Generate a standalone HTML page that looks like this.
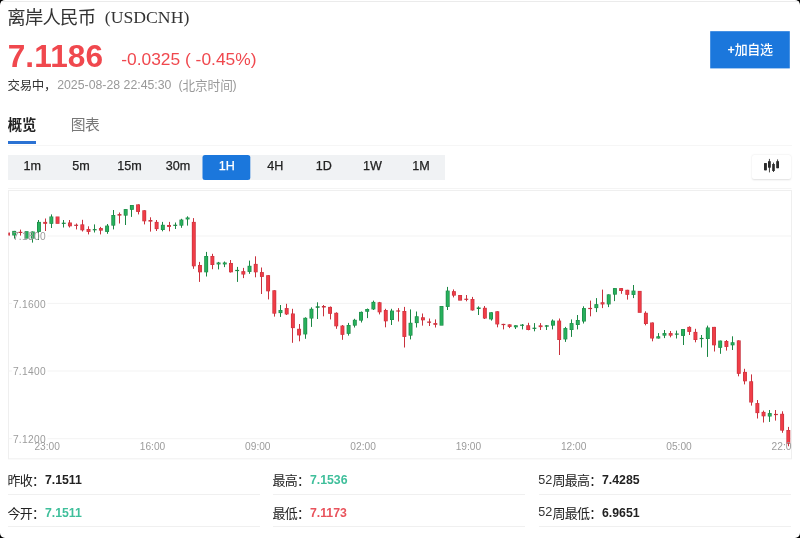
<!DOCTYPE html>
<html lang="zh"><head><meta charset="utf-8"><title>离岸人民币 (USDCNH)</title>
<style>
html,body{margin:0;padding:0;background:#000;}
#page{will-change:transform;position:relative;width:800px;height:538px;background:#fff;border-radius:5px;overflow:hidden;font-family:"Liberation Sans",sans-serif;}
.t{position:absolute;white-space:nowrap;line-height:1;}
.h{position:absolute;white-space:nowrap;line-height:1;color:transparent;font-family:"Liberation Sans",sans-serif;pointer-events:none;overflow:hidden;max-width:120px;}
.topline{position:absolute;left:0;top:1px;width:800px;height:1px;background:#ebebeb;}
.btn{position:absolute;left:710.2px;top:31.2px;width:79.6px;height:37.2px;background:#1b77dc;}
.ul{position:absolute;left:8px;top:141px;width:28px;height:3px;background:#2b72d3;}
.tabline{position:absolute;left:8px;top:145px;width:784px;height:1px;background:#f6f6f6;}
.tfband{position:absolute;left:8px;top:155px;width:437px;height:25px;background:#f0f2f4;}
.tfact{position:absolute;left:202.5px;top:155px;width:48.5px;height:25px;background:#1b77dc;border-radius:2px;}
.tf{-webkit-text-stroke:0.25px currentColor;top:160.2px;width:48.6px;text-align:center;font-size:12.6px;}
.ctb{position:absolute;left:752px;top:154.5px;width:38.5px;height:24px;background:#fff;border-radius:2px;box-shadow:0 0.5px 2px rgba(0,0,0,0.13);}
.dv{position:absolute;width:252px;height:1px;background:#f0f0f0;}
svg{position:absolute;left:0;top:0;}
.ax{font-family:"Liberation Sans",sans-serif;font-size:10.2px;fill:#9c9c9c;}
.cj{font-family:"Liberation Sans","Noto Sans CJK SC",sans-serif;}
</style></head><body><div id="page">
<div class="topline"></div>
<span class="t" style="left:104.80px;top:8.82px;font-size:17.70px;color:#333;font-weight:normal;font-family:'Liberation Serif', serif;">(USDCNH)</span>
<span class="t" style="left:7.70px;top:40.95px;font-size:31.60px;color:#f0484e;font-weight:bold;letter-spacing:0.1px;">7.1186</span>
<span class="t" style="left:121.20px;top:51.27px;font-size:17.40px;color:#f0484e;font-weight:normal;">-0.0325</span>
<span class="t" style="left:185.00px;top:51.27px;font-size:17.40px;color:#f0484e;font-weight:normal;">(</span>
<span class="t" style="left:195.60px;top:51.27px;font-size:17.40px;color:#f0484e;font-weight:normal;">-0.45%)</span>
<span class="t" style="left:57.20px;top:78.69px;font-size:12.30px;color:#999;font-weight:normal;">2025-08-28</span>
<span class="t" style="left:123.60px;top:78.69px;font-size:12.30px;color:#999;font-weight:normal;">22:45:30</span>
<span class="t" style="left:178.60px;top:78.69px;font-size:12.30px;color:#999;font-weight:normal;">(</span>
<span class="t" style="left:232.40px;top:78.69px;font-size:12.30px;color:#999;font-weight:normal;">)</span>
<div class="ul"></div>
<div class="tabline"></div>
<div class="tfband"></div>
<svg width="800" height="538" viewBox="0 0 800 538"><rect x="202.5" y="155" width="47.8" height="25" rx="2.5" fill="#1b77dc"/></svg>
<span class="t tf" style="left:8.00px;color:#222">1m</span>
<span class="t tf" style="left:56.60px;color:#222">5m</span>
<span class="t tf" style="left:105.20px;color:#222">15m</span>
<span class="t tf" style="left:153.80px;color:#222">30m</span>
<span class="t tf" style="left:202.40px;color:#fff">1H</span>
<span class="t tf" style="left:251.00px;color:#222">4H</span>
<span class="t tf" style="left:299.60px;color:#222">1D</span>
<span class="t tf" style="left:348.20px;color:#222">1W</span>
<span class="t tf" style="left:396.80px;color:#222">1M</span>
<div class="ctb"></div>
<div class="dv" style="left:8.0px;top:494.0px"></div>
<div class="dv" style="left:8.0px;top:526.2px"></div>
<div class="dv" style="left:273.0px;top:494.0px"></div>
<div class="dv" style="left:273.0px;top:526.2px"></div>
<div class="dv" style="left:538.5px;top:494.0px"></div>
<div class="dv" style="left:538.5px;top:526.2px"></div>
<span class="t" style="left:44.90px;top:474.09px;font-size:12.30px;color:#222;font-weight:bold;">7.1511</span>
<span class="t" style="left:44.90px;top:506.69px;font-size:12.30px;color:#3fbf9b;font-weight:bold;">7.1511</span>
<span class="t" style="left:309.90px;top:474.09px;font-size:12.30px;color:#3fbf9b;font-weight:bold;">7.1536</span>
<span class="t" style="left:309.90px;top:506.69px;font-size:12.30px;color:#e9535c;font-weight:bold;">7.1173</span>
<span class="t" style="left:538.30px;top:473.83px;font-size:12.60px;color:#333;font-weight:normal;">52</span>
<span class="t" style="left:602.00px;top:474.09px;font-size:12.30px;color:#222;font-weight:bold;">7.4285</span>
<span class="t" style="left:538.30px;top:506.43px;font-size:12.60px;color:#333;font-weight:normal;">52</span>
<span class="t" style="left:602.00px;top:506.69px;font-size:12.30px;color:#222;font-weight:bold;">6.9651</span>
<svg width="800" height="538" viewBox="0 0 800 538">
<rect x="710.2" y="31.2" width="79.6" height="37.2" fill="#1b77dc"/><text x="727.4" y="54.2" font-family="Liberation Sans, sans-serif" font-size="12.5" font-weight="bold" fill="#fff">+</text>
<rect x="8.5" y="190.5" width="783.0" height="268.3" fill="none" stroke="#efefef" stroke-width="1"/>
<line x1="8" x2="791.5" y1="188.5" y2="188.5" stroke="#f4f4f4" stroke-width="1"/>
<line x1="47.5" x2="791.5" y1="236.0" y2="236.0" stroke="#f3f3f3" stroke-width="1"/>
<line x1="8.5" x2="12.0" y1="236.0" y2="236.0" stroke="#f3f3f3" stroke-width="1"/>
<line x1="47.5" x2="791.5" y1="303.4" y2="303.4" stroke="#f3f3f3" stroke-width="1"/>
<line x1="8.5" x2="12.0" y1="303.4" y2="303.4" stroke="#f3f3f3" stroke-width="1"/>
<line x1="47.5" x2="791.5" y1="371.0" y2="371.0" stroke="#f3f3f3" stroke-width="1"/>
<line x1="8.5" x2="12.0" y1="371.0" y2="371.0" stroke="#f3f3f3" stroke-width="1"/>
<line x1="47.5" x2="791.5" y1="438.7" y2="438.7" stroke="#f3f3f3" stroke-width="1"/>
<line x1="8.5" x2="12.0" y1="438.7" y2="438.7" stroke="#f3f3f3" stroke-width="1"/>
<clipPath id="cc"><rect x="8.5" y="190.5" width="783.0" height="256.0"/></clipPath>
<g clip-path="url(#cc)"><rect x="6.05" y="232.5" width="3.9" height="3.1" fill="#c8313d"/><rect x="6.75" y="233.0" width="2.5" height="2.1" fill="#f03d47"/><rect x="14" y="230.9" width="1" height="7.7" fill="#1b8744"/><rect x="12.24" y="230.9" width="3.9" height="4.6" fill="#1b8744"/><rect x="12.94" y="231.4" width="2.5" height="3.6" fill="#27b05c"/><rect x="20" y="229.6" width="1" height="6.0" fill="#c8313d"/><rect x="18.44" y="231.8" width="3.9" height="1.2" fill="#c8313d"/><rect x="24.63" y="231.2" width="3.9" height="7.4" fill="#1b8744"/><rect x="25.33" y="231.7" width="2.5" height="6.4" fill="#27b05c"/><rect x="32" y="231.5" width="1" height="11.1" fill="#1b8744"/><rect x="30.82" y="231.5" width="3.9" height="7.1" fill="#1b8744"/><rect x="31.52" y="232.0" width="2.5" height="6.1" fill="#27b05c"/><rect x="38" y="220.0" width="1" height="20.0" fill="#1b8744"/><rect x="37.01" y="221.9" width="3.9" height="10.0" fill="#1b8744"/><rect x="37.71" y="222.4" width="2.5" height="9.0" fill="#27b05c"/><rect x="45" y="218.5" width="1" height="12.5" fill="#c8313d"/><rect x="43.21" y="221.9" width="3.9" height="1.9" fill="#c8313d"/><rect x="43.91" y="222.4" width="2.5" height="0.9" fill="#f03d47"/><rect x="51" y="214.4" width="1" height="13.6" fill="#1b8744"/><rect x="49.40" y="216.5" width="3.9" height="7.3" fill="#1b8744"/><rect x="50.10" y="217.0" width="2.5" height="6.3" fill="#27b05c"/><rect x="55.59" y="216.5" width="3.9" height="7.3" fill="#c8313d"/><rect x="56.29" y="217.0" width="2.5" height="6.3" fill="#f03d47"/><rect x="63" y="220.0" width="1" height="7.5" fill="#1b8744"/><rect x="61.79" y="222.7" width="3.9" height="1.2" fill="#1b8744"/><rect x="69" y="220.0" width="1" height="7.5" fill="#c8313d"/><rect x="67.98" y="222.5" width="3.9" height="3.8" fill="#c8313d"/><rect x="68.68" y="223.0" width="2.5" height="2.8" fill="#f03d47"/><rect x="76" y="223.5" width="1" height="5.9" fill="#c8313d"/><rect x="74.17" y="224.7" width="3.9" height="1.2" fill="#c8313d"/><rect x="82" y="219.8" width="1" height="11.7" fill="#c8313d"/><rect x="80.37" y="224.4" width="3.9" height="5.9" fill="#c8313d"/><rect x="81.07" y="224.9" width="2.5" height="4.9" fill="#f03d47"/><rect x="88" y="226.3" width="1" height="8.1" fill="#c8313d"/><rect x="86.56" y="229.0" width="3.9" height="2.9" fill="#c8313d"/><rect x="87.26" y="229.5" width="2.5" height="1.9" fill="#f03d47"/><rect x="94" y="224.4" width="1" height="8.1" fill="#1b8744"/><rect x="92.75" y="229.1" width="3.9" height="1.2" fill="#1b8744"/><rect x="100" y="226.9" width="1" height="7.5" fill="#c8313d"/><rect x="98.94" y="228.1" width="3.9" height="2.5" fill="#c8313d"/><rect x="99.64" y="228.6" width="2.5" height="1.5" fill="#f03d47"/><rect x="107" y="224.0" width="1" height="9.8" fill="#1b8744"/><rect x="105.14" y="225.6" width="3.9" height="6.3" fill="#1b8744"/><rect x="105.84" y="226.1" width="2.5" height="5.3" fill="#27b05c"/><rect x="113" y="210.0" width="1" height="19.4" fill="#1b8744"/><rect x="111.33" y="215.0" width="3.9" height="10.6" fill="#1b8744"/><rect x="112.03" y="215.5" width="2.5" height="9.6" fill="#27b05c"/><rect x="119" y="212.5" width="1" height="11.0" fill="#c8313d"/><rect x="117.52" y="214.1" width="3.9" height="1.5" fill="#c8313d"/><rect x="125" y="209.1" width="1" height="15.9" fill="#1b8744"/><rect x="123.72" y="209.1" width="3.9" height="6.5" fill="#1b8744"/><rect x="124.42" y="209.6" width="2.5" height="5.5" fill="#27b05c"/><rect x="131" y="205.0" width="1" height="11.9" fill="#1b8744"/><rect x="129.91" y="205.0" width="3.9" height="4.8" fill="#1b8744"/><rect x="130.61" y="205.5" width="2.5" height="3.8" fill="#27b05c"/><rect x="138" y="204.4" width="1" height="10.0" fill="#c8313d"/><rect x="136.10" y="204.4" width="3.9" height="7.5" fill="#c8313d"/><rect x="136.80" y="204.9" width="2.5" height="6.5" fill="#f03d47"/><rect x="144" y="210.3" width="1" height="14.1" fill="#c8313d"/><rect x="142.30" y="210.3" width="3.9" height="11.0" fill="#c8313d"/><rect x="143.00" y="210.8" width="2.5" height="10.0" fill="#f03d47"/><rect x="150" y="217.3" width="1" height="14.3" fill="#c8313d"/><rect x="148.49" y="220.0" width="3.9" height="1.6" fill="#c8313d"/><rect x="156" y="220.0" width="1" height="11.0" fill="#c8313d"/><rect x="154.68" y="221.9" width="3.9" height="7.2" fill="#c8313d"/><rect x="155.38" y="222.4" width="2.5" height="6.2" fill="#f03d47"/><rect x="162" y="221.9" width="1" height="9.4" fill="#1b8744"/><rect x="160.88" y="224.8" width="3.9" height="5.2" fill="#1b8744"/><rect x="161.57" y="225.3" width="2.5" height="4.2" fill="#27b05c"/><rect x="169" y="221.9" width="1" height="9.4" fill="#c8313d"/><rect x="167.07" y="225.0" width="3.9" height="1.9" fill="#c8313d"/><rect x="167.77" y="225.5" width="2.5" height="0.9" fill="#f03d47"/><rect x="175" y="222.5" width="1" height="6.5" fill="#1b8744"/><rect x="173.26" y="224.7" width="3.9" height="1.2" fill="#1b8744"/><rect x="181" y="218.8" width="1" height="9.0" fill="#1b8744"/><rect x="179.45" y="219.6" width="3.9" height="6.0" fill="#1b8744"/><rect x="180.15" y="220.1" width="2.5" height="5.0" fill="#27b05c"/><rect x="187" y="216.3" width="1" height="9.3" fill="#1b8744"/><rect x="185.65" y="217.5" width="3.9" height="1.9" fill="#1b8744"/><rect x="186.35" y="218.0" width="2.5" height="0.9" fill="#27b05c"/><rect x="193" y="218.1" width="1" height="50.7" fill="#c8313d"/><rect x="191.84" y="221.9" width="3.9" height="44.4" fill="#c8313d"/><rect x="192.54" y="222.4" width="2.5" height="43.4" fill="#f03d47"/><rect x="199" y="261.9" width="1" height="20.0" fill="#c8313d"/><rect x="198.03" y="265.0" width="3.9" height="7.3" fill="#c8313d"/><rect x="198.73" y="265.5" width="2.5" height="6.3" fill="#f03d47"/><rect x="206" y="251.9" width="1" height="24.6" fill="#1b8744"/><rect x="204.23" y="256.0" width="3.9" height="16.3" fill="#1b8744"/><rect x="204.93" y="256.5" width="2.5" height="15.3" fill="#27b05c"/><rect x="212" y="253.8" width="1" height="15.4" fill="#c8313d"/><rect x="210.42" y="256.0" width="3.9" height="9.0" fill="#c8313d"/><rect x="211.12" y="256.5" width="2.5" height="8.0" fill="#f03d47"/><rect x="218" y="261.9" width="1" height="7.5" fill="#1b8744"/><rect x="216.61" y="262.5" width="3.9" height="1.9" fill="#1b8744"/><rect x="217.31" y="263.0" width="2.5" height="0.9" fill="#27b05c"/><rect x="224" y="261.5" width="1" height="5.6" fill="#1b8744"/><rect x="222.81" y="262.5" width="3.9" height="1.9" fill="#1b8744"/><rect x="223.50" y="263.0" width="2.5" height="0.9" fill="#27b05c"/><rect x="230" y="260.0" width="1" height="12.5" fill="#c8313d"/><rect x="229.00" y="263.0" width="3.9" height="9.3" fill="#c8313d"/><rect x="229.70" y="263.5" width="2.5" height="8.3" fill="#f03d47"/><rect x="237" y="266.9" width="1" height="15.0" fill="#1b8744"/><rect x="235.19" y="269.9" width="3.9" height="1.2" fill="#1b8744"/><rect x="243" y="267.9" width="1" height="10.2" fill="#c8313d"/><rect x="241.38" y="271.2" width="3.9" height="3.3" fill="#c8313d"/><rect x="242.08" y="271.7" width="2.5" height="2.3" fill="#f03d47"/><rect x="249" y="260.6" width="1" height="13.2" fill="#1b8744"/><rect x="247.58" y="265.8" width="3.9" height="6.1" fill="#1b8744"/><rect x="248.28" y="266.3" width="2.5" height="5.1" fill="#27b05c"/><rect x="255" y="256.3" width="1" height="21.0" fill="#c8313d"/><rect x="253.77" y="263.9" width="3.9" height="8.4" fill="#c8313d"/><rect x="254.47" y="264.4" width="2.5" height="7.4" fill="#f03d47"/><rect x="261" y="267.5" width="1" height="26.5" fill="#c8313d"/><rect x="259.96" y="272.1" width="3.9" height="4.8" fill="#c8313d"/><rect x="260.66" y="272.6" width="2.5" height="3.8" fill="#f03d47"/><rect x="268" y="275.2" width="1" height="24.2" fill="#c8313d"/><rect x="266.16" y="275.2" width="3.9" height="16.1" fill="#c8313d"/><rect x="266.86" y="275.7" width="2.5" height="15.1" fill="#f03d47"/><rect x="274" y="290.3" width="1" height="26.3" fill="#c8313d"/><rect x="272.35" y="290.3" width="3.9" height="23.3" fill="#c8313d"/><rect x="273.05" y="290.8" width="2.5" height="22.3" fill="#f03d47"/><rect x="280" y="305.0" width="1" height="11.9" fill="#1b8744"/><rect x="278.54" y="310.0" width="3.9" height="3.1" fill="#1b8744"/><rect x="279.24" y="310.5" width="2.5" height="2.1" fill="#27b05c"/><rect x="286" y="303.8" width="1" height="11.2" fill="#c8313d"/><rect x="284.74" y="308.1" width="3.9" height="6.3" fill="#c8313d"/><rect x="285.44" y="308.6" width="2.5" height="5.3" fill="#f03d47"/><rect x="292" y="308.8" width="1" height="34.0" fill="#c8313d"/><rect x="290.93" y="313.5" width="3.9" height="14.6" fill="#c8313d"/><rect x="291.63" y="314.0" width="2.5" height="13.6" fill="#f03d47"/><rect x="299" y="324.0" width="1" height="17.3" fill="#c8313d"/><rect x="297.12" y="328.8" width="3.9" height="6.6" fill="#c8313d"/><rect x="297.82" y="329.3" width="2.5" height="5.6" fill="#f03d47"/><rect x="305" y="317.3" width="1" height="21.5" fill="#1b8744"/><rect x="303.31" y="317.8" width="3.9" height="16.6" fill="#1b8744"/><rect x="304.01" y="318.3" width="2.5" height="15.6" fill="#27b05c"/><rect x="311" y="307.3" width="1" height="19.6" fill="#1b8744"/><rect x="309.51" y="308.8" width="3.9" height="9.7" fill="#1b8744"/><rect x="310.21" y="309.3" width="2.5" height="8.7" fill="#27b05c"/><rect x="317" y="302.3" width="1" height="16.7" fill="#1b8744"/><rect x="315.70" y="306.3" width="3.9" height="1.5" fill="#1b8744"/><rect x="323" y="305.0" width="1" height="11.3" fill="#c8313d"/><rect x="321.89" y="306.0" width="3.9" height="1.5" fill="#c8313d"/><rect x="330" y="306.5" width="1" height="12.9" fill="#c8313d"/><rect x="328.09" y="306.9" width="3.9" height="6.9" fill="#c8313d"/><rect x="328.79" y="307.4" width="2.5" height="5.9" fill="#f03d47"/><rect x="336" y="312.3" width="1" height="16.5" fill="#c8313d"/><rect x="334.28" y="312.8" width="3.9" height="13.5" fill="#c8313d"/><rect x="334.98" y="313.3" width="2.5" height="12.5" fill="#f03d47"/><rect x="342" y="325.0" width="1" height="14.8" fill="#c8313d"/><rect x="340.47" y="325.6" width="3.9" height="9.2" fill="#c8313d"/><rect x="341.17" y="326.1" width="2.5" height="8.2" fill="#f03d47"/><rect x="348" y="322.9" width="1" height="12.7" fill="#1b8744"/><rect x="346.66" y="325.0" width="3.9" height="8.8" fill="#1b8744"/><rect x="347.36" y="325.5" width="2.5" height="7.8" fill="#27b05c"/><rect x="354" y="318.8" width="1" height="8.7" fill="#1b8744"/><rect x="352.86" y="319.8" width="3.9" height="5.8" fill="#1b8744"/><rect x="353.56" y="320.3" width="2.5" height="4.8" fill="#27b05c"/><rect x="361" y="311.5" width="1" height="11.0" fill="#1b8744"/><rect x="359.05" y="311.9" width="3.9" height="8.7" fill="#1b8744"/><rect x="359.75" y="312.4" width="2.5" height="7.7" fill="#27b05c"/><rect x="367" y="308.5" width="1" height="9.6" fill="#1b8744"/><rect x="365.24" y="309.0" width="3.9" height="2.7" fill="#1b8744"/><rect x="365.94" y="309.5" width="2.5" height="1.7" fill="#27b05c"/><rect x="373" y="300.6" width="1" height="9.4" fill="#1b8744"/><rect x="371.44" y="301.9" width="3.9" height="7.5" fill="#1b8744"/><rect x="372.14" y="302.4" width="2.5" height="6.5" fill="#27b05c"/><rect x="379" y="301.9" width="1" height="12.5" fill="#c8313d"/><rect x="377.63" y="302.3" width="3.9" height="10.0" fill="#c8313d"/><rect x="378.33" y="302.8" width="2.5" height="9.0" fill="#f03d47"/><rect x="385" y="308.8" width="1" height="18.5" fill="#c8313d"/><rect x="383.82" y="310.0" width="3.9" height="11.3" fill="#c8313d"/><rect x="384.52" y="310.5" width="2.5" height="10.3" fill="#f03d47"/><rect x="391" y="308.8" width="1" height="16.2" fill="#1b8744"/><rect x="390.02" y="310.6" width="3.9" height="9.4" fill="#1b8744"/><rect x="390.72" y="311.1" width="2.5" height="8.4" fill="#27b05c"/><rect x="398" y="308.1" width="1" height="13.4" fill="#c8313d"/><rect x="396.21" y="310.4" width="3.9" height="1.2" fill="#c8313d"/><rect x="404" y="306.9" width="1" height="40.6" fill="#c8313d"/><rect x="402.40" y="311.0" width="3.9" height="25.9" fill="#c8313d"/><rect x="403.10" y="311.5" width="2.5" height="24.9" fill="#f03d47"/><rect x="410" y="309.4" width="1" height="30.0" fill="#1b8744"/><rect x="408.59" y="322.8" width="3.9" height="12.8" fill="#1b8744"/><rect x="409.29" y="323.3" width="2.5" height="11.8" fill="#27b05c"/><rect x="416" y="311.5" width="1" height="16.0" fill="#1b8744"/><rect x="414.79" y="316.3" width="3.9" height="6.8" fill="#1b8744"/><rect x="415.49" y="316.8" width="2.5" height="5.8" fill="#27b05c"/><rect x="422" y="313.5" width="1" height="12.1" fill="#c8313d"/><rect x="420.98" y="317.3" width="3.9" height="3.0" fill="#c8313d"/><rect x="421.68" y="317.8" width="2.5" height="2.0" fill="#f03d47"/><rect x="429" y="318.5" width="1" height="7.5" fill="#c8313d"/><rect x="427.17" y="321.5" width="3.9" height="1.3" fill="#c8313d"/><rect x="435" y="319.4" width="1" height="8.1" fill="#c8313d"/><rect x="433.37" y="323.1" width="3.9" height="1.7" fill="#c8313d"/><rect x="434.07" y="323.6" width="2.5" height="0.7" fill="#f03d47"/><rect x="439.56" y="306.0" width="3.9" height="19.6" fill="#1b8744"/><rect x="440.26" y="306.5" width="2.5" height="18.6" fill="#27b05c"/><rect x="447" y="286.9" width="1" height="23.1" fill="#1b8744"/><rect x="445.75" y="290.6" width="3.9" height="16.3" fill="#1b8744"/><rect x="446.45" y="291.1" width="2.5" height="15.3" fill="#27b05c"/><rect x="453" y="289.4" width="1" height="8.0" fill="#c8313d"/><rect x="451.95" y="291.2" width="3.9" height="4.4" fill="#c8313d"/><rect x="452.65" y="291.7" width="2.5" height="3.4" fill="#f03d47"/><rect x="458.14" y="295.0" width="3.9" height="5.6" fill="#c8313d"/><rect x="458.84" y="295.5" width="2.5" height="4.6" fill="#f03d47"/><rect x="466" y="295.0" width="1" height="6.3" fill="#c8313d"/><rect x="464.33" y="298.7" width="3.9" height="1.2" fill="#c8313d"/><rect x="472" y="296.9" width="1" height="13.7" fill="#c8313d"/><rect x="470.52" y="299.0" width="3.9" height="11.4" fill="#c8313d"/><rect x="471.22" y="299.5" width="2.5" height="10.4" fill="#f03d47"/><rect x="478" y="306.3" width="1" height="8.7" fill="#1b8744"/><rect x="476.72" y="307.5" width="3.9" height="1.5" fill="#1b8744"/><rect x="484" y="306.0" width="1" height="13.0" fill="#c8313d"/><rect x="482.91" y="307.8" width="3.9" height="10.7" fill="#c8313d"/><rect x="483.61" y="308.3" width="2.5" height="9.7" fill="#f03d47"/><rect x="491" y="312.3" width="1" height="8.3" fill="#1b8744"/><rect x="489.10" y="312.3" width="3.9" height="7.1" fill="#1b8744"/><rect x="489.80" y="312.8" width="2.5" height="6.1" fill="#27b05c"/><rect x="497" y="311.3" width="1" height="16.0" fill="#c8313d"/><rect x="495.30" y="311.3" width="3.9" height="13.1" fill="#c8313d"/><rect x="496.00" y="311.8" width="2.5" height="12.1" fill="#f03d47"/><rect x="503" y="323.8" width="1" height="5.6" fill="#c8313d"/><rect x="501.49" y="323.9" width="3.9" height="1.2" fill="#c8313d"/><rect x="509" y="324.4" width="1" height="3.7" fill="#c8313d"/><rect x="507.68" y="324.4" width="3.9" height="2.5" fill="#c8313d"/><rect x="508.38" y="324.9" width="2.5" height="1.5" fill="#f03d47"/><rect x="515" y="325.3" width="1" height="3.7" fill="#1b8744"/><rect x="513.88" y="325.3" width="3.9" height="2.0" fill="#1b8744"/><rect x="514.58" y="325.8" width="2.5" height="1.0" fill="#27b05c"/><rect x="522" y="324.0" width="1" height="5.4" fill="#1b8744"/><rect x="520.07" y="324.6" width="3.9" height="1.2" fill="#1b8744"/><rect x="528" y="322.8" width="1" height="7.5" fill="#c8313d"/><rect x="526.26" y="325.3" width="3.9" height="4.7" fill="#c8313d"/><rect x="526.96" y="325.8" width="2.5" height="3.7" fill="#f03d47"/><rect x="534" y="323.1" width="1" height="8.2" fill="#1b8744"/><rect x="532.45" y="327.7" width="3.9" height="1.2" fill="#1b8744"/><rect x="540" y="323.1" width="1" height="6.9" fill="#c8313d"/><rect x="538.65" y="325.4" width="3.9" height="1.7" fill="#c8313d"/><rect x="539.35" y="325.9" width="2.5" height="0.7" fill="#f03d47"/><rect x="546" y="325.0" width="1" height="5.0" fill="#1b8744"/><rect x="544.84" y="325.3" width="3.9" height="1.4" fill="#1b8744"/><rect x="552" y="319.4" width="1" height="10.0" fill="#1b8744"/><rect x="551.03" y="320.6" width="3.9" height="5.0" fill="#1b8744"/><rect x="551.73" y="321.1" width="2.5" height="4.0" fill="#27b05c"/><rect x="559" y="318.5" width="1" height="36.5" fill="#c8313d"/><rect x="557.23" y="320.6" width="3.9" height="19.4" fill="#c8313d"/><rect x="557.93" y="321.1" width="2.5" height="18.4" fill="#f03d47"/><rect x="565" y="326.9" width="1" height="15.0" fill="#1b8744"/><rect x="563.42" y="328.1" width="3.9" height="11.3" fill="#1b8744"/><rect x="564.12" y="328.6" width="2.5" height="10.3" fill="#27b05c"/><rect x="571" y="319.4" width="1" height="17.5" fill="#1b8744"/><rect x="569.61" y="323.1" width="3.9" height="6.9" fill="#1b8744"/><rect x="570.31" y="323.6" width="2.5" height="5.9" fill="#27b05c"/><rect x="577" y="315.0" width="1" height="14.4" fill="#1b8744"/><rect x="575.81" y="320.0" width="3.9" height="5.0" fill="#1b8744"/><rect x="576.51" y="320.5" width="2.5" height="4.0" fill="#27b05c"/><rect x="583" y="306.3" width="1" height="17.2" fill="#1b8744"/><rect x="582.00" y="308.1" width="3.9" height="13.4" fill="#1b8744"/><rect x="582.70" y="308.6" width="2.5" height="12.4" fill="#27b05c"/><rect x="590" y="300.6" width="1" height="15.7" fill="#c8313d"/><rect x="588.19" y="307.9" width="3.9" height="1.2" fill="#c8313d"/><rect x="596" y="298.1" width="1" height="14.0" fill="#1b8744"/><rect x="594.38" y="304.2" width="3.9" height="3.9" fill="#1b8744"/><rect x="595.08" y="304.7" width="2.5" height="2.9" fill="#27b05c"/><rect x="602" y="289.6" width="1" height="18.5" fill="#c8313d"/><rect x="600.58" y="302.3" width="3.9" height="2.1" fill="#c8313d"/><rect x="601.28" y="302.8" width="2.5" height="1.1" fill="#f03d47"/><rect x="608" y="294.4" width="1" height="12.7" fill="#1b8744"/><rect x="606.77" y="294.4" width="3.9" height="10.0" fill="#1b8744"/><rect x="607.47" y="294.9" width="2.5" height="9.0" fill="#27b05c"/><rect x="614" y="288.1" width="1" height="13.0" fill="#1b8744"/><rect x="612.96" y="288.1" width="3.9" height="6.5" fill="#1b8744"/><rect x="613.66" y="288.6" width="2.5" height="5.5" fill="#27b05c"/><rect x="621" y="288.1" width="1" height="5.7" fill="#c8313d"/><rect x="619.16" y="288.1" width="3.9" height="2.9" fill="#c8313d"/><rect x="619.86" y="288.6" width="2.5" height="1.9" fill="#f03d47"/><rect x="627" y="289.8" width="1" height="9.8" fill="#c8313d"/><rect x="625.35" y="289.8" width="3.9" height="5.0" fill="#c8313d"/><rect x="626.05" y="290.3" width="2.5" height="4.0" fill="#f03d47"/><rect x="633" y="285.0" width="1" height="13.1" fill="#1b8744"/><rect x="631.54" y="290.6" width="3.9" height="4.3" fill="#1b8744"/><rect x="632.24" y="291.1" width="2.5" height="3.3" fill="#27b05c"/><rect x="637.74" y="290.9" width="3.9" height="21.9" fill="#c8313d"/><rect x="638.44" y="291.4" width="2.5" height="20.9" fill="#f03d47"/><rect x="645" y="311.3" width="1" height="14.0" fill="#c8313d"/><rect x="643.93" y="312.8" width="3.9" height="11.2" fill="#c8313d"/><rect x="644.63" y="313.3" width="2.5" height="10.2" fill="#f03d47"/><rect x="652" y="322.5" width="1" height="18.8" fill="#c8313d"/><rect x="650.12" y="322.5" width="3.9" height="16.0" fill="#c8313d"/><rect x="650.82" y="323.0" width="2.5" height="15.0" fill="#f03d47"/><rect x="658" y="333.1" width="1" height="5.4" fill="#1b8744"/><rect x="656.31" y="336.3" width="3.9" height="2.2" fill="#1b8744"/><rect x="657.01" y="336.8" width="2.5" height="1.2" fill="#27b05c"/><rect x="664" y="330.0" width="1" height="8.1" fill="#1b8744"/><rect x="662.51" y="333.1" width="3.9" height="2.5" fill="#1b8744"/><rect x="663.21" y="333.6" width="2.5" height="1.5" fill="#27b05c"/><rect x="670" y="331.0" width="1" height="6.3" fill="#c8313d"/><rect x="668.70" y="333.1" width="3.9" height="2.5" fill="#c8313d"/><rect x="669.40" y="333.6" width="2.5" height="1.5" fill="#f03d47"/><rect x="676" y="330.6" width="1" height="7.9" fill="#1b8744"/><rect x="674.89" y="333.5" width="3.9" height="1.2" fill="#1b8744"/><rect x="683" y="329.0" width="1" height="16.0" fill="#1b8744"/><rect x="681.09" y="329.0" width="3.9" height="6.9" fill="#1b8744"/><rect x="681.79" y="329.5" width="2.5" height="5.9" fill="#27b05c"/><rect x="689" y="326.3" width="1" height="8.7" fill="#c8313d"/><rect x="687.28" y="326.9" width="3.9" height="5.0" fill="#c8313d"/><rect x="687.98" y="327.4" width="2.5" height="4.0" fill="#f03d47"/><rect x="695" y="328.8" width="1" height="13.5" fill="#c8313d"/><rect x="693.47" y="331.9" width="3.9" height="8.1" fill="#c8313d"/><rect x="694.17" y="332.4" width="2.5" height="7.1" fill="#f03d47"/><rect x="701" y="335.0" width="1" height="12.5" fill="#1b8744"/><rect x="699.67" y="337.9" width="3.9" height="1.2" fill="#1b8744"/><rect x="707" y="325.6" width="1" height="31.3" fill="#1b8744"/><rect x="705.86" y="327.5" width="3.9" height="11.5" fill="#1b8744"/><rect x="706.56" y="328.0" width="2.5" height="10.5" fill="#27b05c"/><rect x="714" y="326.9" width="1" height="24.6" fill="#c8313d"/><rect x="712.05" y="326.9" width="3.9" height="18.4" fill="#c8313d"/><rect x="712.75" y="327.4" width="2.5" height="17.4" fill="#f03d47"/><rect x="720" y="340.6" width="1" height="13.2" fill="#1b8744"/><rect x="718.24" y="340.6" width="3.9" height="7.2" fill="#1b8744"/><rect x="718.94" y="341.1" width="2.5" height="6.2" fill="#27b05c"/><rect x="726" y="340.0" width="1" height="10.6" fill="#c8313d"/><rect x="724.44" y="341.0" width="3.9" height="5.9" fill="#c8313d"/><rect x="725.14" y="341.5" width="2.5" height="4.9" fill="#f03d47"/><rect x="732" y="336.3" width="1" height="13.7" fill="#1b8744"/><rect x="730.63" y="342.3" width="3.9" height="3.0" fill="#1b8744"/><rect x="731.33" y="342.8" width="2.5" height="2.0" fill="#27b05c"/><rect x="738" y="340.4" width="1" height="35.9" fill="#c8313d"/><rect x="736.82" y="340.4" width="3.9" height="33.4" fill="#c8313d"/><rect x="737.52" y="340.9" width="2.5" height="32.4" fill="#f03d47"/><rect x="744" y="368.8" width="1" height="15.6" fill="#c8313d"/><rect x="743.02" y="371.9" width="3.9" height="9.4" fill="#c8313d"/><rect x="743.72" y="372.4" width="2.5" height="8.4" fill="#f03d47"/><rect x="751" y="374.4" width="1" height="31.2" fill="#c8313d"/><rect x="749.21" y="381.3" width="3.9" height="21.2" fill="#c8313d"/><rect x="749.91" y="381.8" width="2.5" height="20.2" fill="#f03d47"/><rect x="757" y="400.0" width="1" height="18.5" fill="#c8313d"/><rect x="755.40" y="403.1" width="3.9" height="10.0" fill="#c8313d"/><rect x="756.10" y="403.6" width="2.5" height="9.0" fill="#f03d47"/><rect x="763" y="410.6" width="1" height="11.9" fill="#c8313d"/><rect x="761.60" y="411.9" width="3.9" height="4.4" fill="#c8313d"/><rect x="762.30" y="412.4" width="2.5" height="3.4" fill="#f03d47"/><rect x="769" y="410.0" width="1" height="11.9" fill="#1b8744"/><rect x="767.79" y="413.1" width="3.9" height="3.4" fill="#1b8744"/><rect x="768.49" y="413.6" width="2.5" height="2.4" fill="#27b05c"/><rect x="775" y="410.0" width="1" height="10.6" fill="#c8313d"/><rect x="773.98" y="413.9" width="3.9" height="1.2" fill="#c8313d"/><rect x="782" y="411.3" width="1" height="21.5" fill="#c8313d"/><rect x="780.17" y="413.8" width="3.9" height="16.8" fill="#c8313d"/><rect x="780.88" y="414.3" width="2.5" height="15.8" fill="#f03d47"/><rect x="788" y="426.9" width="1" height="19.6" fill="#c8313d"/><rect x="786.37" y="430.0" width="3.9" height="13.8" fill="#c8313d"/><rect x="787.07" y="430.5" width="2.5" height="12.8" fill="#f03d47"/></g>
<clipPath id="lc"><rect x="8.5" y="190.5" width="782.7" height="268.3"/></clipPath><g clip-path="url(#lc)">
<text x="12.9" y="240.1" class="ax" letter-spacing="0.3">7.1800</text>
<text x="12.9" y="307.5" class="ax" letter-spacing="0.3">7.1600</text>
<text x="12.9" y="375.1" class="ax" letter-spacing="0.3">7.1400</text>
<text x="12.9" y="442.8" class="ax" letter-spacing="0.3">7.1200</text>
<text x="47.2" y="449.8" class="ax" text-anchor="middle">23:00</text>
<text x="152.5" y="449.8" class="ax" text-anchor="middle">16:00</text>
<text x="257.8" y="449.8" class="ax" text-anchor="middle">09:00</text>
<text x="363.1" y="449.8" class="ax" text-anchor="middle">02:00</text>
<text x="468.4" y="449.8" class="ax" text-anchor="middle">19:00</text>
<text x="573.7" y="449.8" class="ax" text-anchor="middle">12:00</text>
<text x="679.0" y="449.8" class="ax" text-anchor="middle">05:00</text>
<text x="784.3" y="449.8" class="ax" text-anchor="middle">22:00</text>
</g>
<rect x="765.00" y="163.1" width="0.9" height="7.2" fill="#333"/><rect x="764.00" y="163.1" width="2.9" height="7.2" fill="#2a2a2a"/><rect x="768.95" y="158.9" width="0.9" height="13.5" fill="#333"/><rect x="768.00" y="161.2" width="2.8" height="6.5" fill="#2a2a2a"/><rect x="773.05" y="162.6" width="0.9" height="9.4" fill="#333"/><rect x="772.20" y="164.0" width="2.6" height="7.0" fill="#2a2a2a"/><rect x="777.15" y="159.4" width="0.9" height="8.8" fill="#333"/><rect x="776.20" y="161.2" width="2.8" height="7.0" fill="#2a2a2a"/>
<text class="cj" x="7.33" y="24.04" font-size="18.35" letter-spacing="-0.75" fill="#333">离岸人民币</text>
<text class="cj" x="7.52" y="89.54" font-size="12.42" letter-spacing="-0.27" fill="#333">交易中，</text>
<text class="cj" x="182.47" y="90.07" font-size="12.7" letter-spacing="-0.11" fill="#999">北京时间</text>
<text class="cj" x="734.70" y="54.00" font-size="13" font-weight="500" letter-spacing="-0.4" fill="#fff">加自选</text>
<text class="cj" x="7.86" y="129.92" font-size="14.34" font-weight="bold" letter-spacing="-0.24" fill="#222">概览</text>
<text class="cj" x="70.66" y="130.12" font-size="14.78" letter-spacing="-0.53" fill="#777">图表</text>
<text class="cj" x="7.50" y="484.90" font-size="13" letter-spacing="-0.75" fill="#222">昨收：</text>
<text class="cj" x="7.50" y="517.50" font-size="13" letter-spacing="-0.75" fill="#222">今开：</text>
<text class="cj" x="272.50" y="484.90" font-size="13" letter-spacing="-0.75" fill="#222">最高：</text>
<text class="cj" x="272.50" y="517.50" font-size="13" letter-spacing="-0.75" fill="#222">最低：</text>
<text class="cj" x="552.40" y="484.90" font-size="13" letter-spacing="-0.75" fill="#222">周最高：</text>
<text class="cj" x="552.40" y="517.50" font-size="13" letter-spacing="-0.75" fill="#222">周最低：</text>
</svg>
<span class="h" style="left:7.3px;top:7.9px;font-size:18.3px">离岸人民币</span>
<span class="h" style="left:7.5px;top:78.6px;font-size:12.4px">交易中，</span>
<span class="h" style="left:182.5px;top:78.9px;font-size:12.7px">北京时间</span>
<span class="h" style="left:734.7px;top:42.6px;font-size:13.0px">加自选</span>
<span class="h" style="left:7.9px;top:117.3px;font-size:14.3px">概览</span>
<span class="h" style="left:70.7px;top:117.1px;font-size:14.8px">图表</span>
<span class="h" style="left:7.5px;top:473.5px;font-size:13.0px">昨收：</span>
<span class="h" style="left:7.5px;top:506.1px;font-size:13.0px">今开：</span>
<span class="h" style="left:272.5px;top:473.5px;font-size:13.0px">最高：</span>
<span class="h" style="left:272.5px;top:506.1px;font-size:13.0px">最低：</span>
<span class="h" style="left:552.4px;top:473.5px;font-size:13.0px">周最高：</span>
<span class="h" style="left:552.4px;top:506.1px;font-size:13.0px">周最低：</span>
</div></body></html>
